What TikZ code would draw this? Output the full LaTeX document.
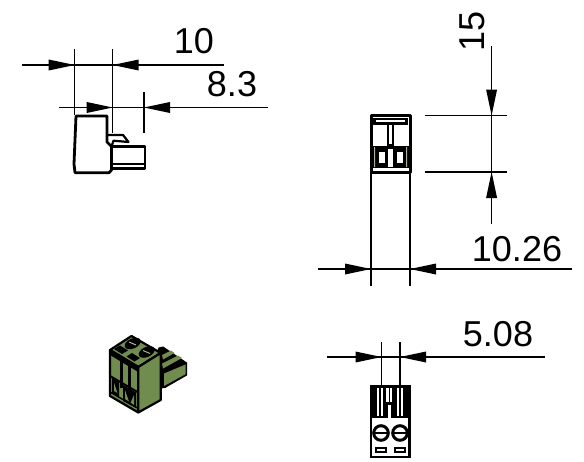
\documentclass[tikz,border=0pt]{standalone}
\usepackage{fontspec}
\setmainfont{Liberation Sans}
\definecolor{grn}{RGB}{112,140,78}
\definecolor{lite}{RGB}{170,180,150}
\tikzset{
  dimline/.style={line width=1.25pt,black},
  tip/.style={fill=black,draw=none},
  part/.style={line width=2.8pt,black,line join=round},
  partb/.style={line width=3pt,black,line join=round},
  cube/.style={fill=grn,draw=black,line width=2.2pt,line join=round},
  dimtext/.style={font=\fontsize{36}{36}\selectfont,inner sep=0pt,text=black}
}
\newcommand{\tipR}[2]{\fill[tip] (#1,#2) -- (#1-26,#2-5.5) -- (#1-26,#2+5.5) -- cycle;}
\newcommand{\tipL}[2]{\fill[tip] (#1,#2) -- (#1+26,#2-5.5) -- (#1+26,#2+5.5) -- cycle;}
\newcommand{\tipD}[2]{\fill[tip] (#1,#2) -- (#1-5.5,#2-26) -- (#1+5.5,#2-26) -- cycle;}
\newcommand{\tipU}[2]{\fill[tip] (#1,#2) -- (#1-5.5,#2+26) -- (#1+5.5,#2+26) -- cycle;}
\begin{document}
\begin{tikzpicture}[x=1pt,y=-1pt]
\useasboundingbox (0,0) rectangle (584,461);
% dim 10
\draw[dimline] (21.5,65) -- (224,65);
\draw[dimline] (74.7,49) -- (74.7,115);
\draw[dimline] (112.7,49) -- (112.7,133);
\tipR{74.7}{65} \tipL{112.7}{65}
\node[dimtext] (d10) at (194,41) {10};
% dim 8.3
\draw[dimline] (59,107.5) -- (268,107.5);
\draw[dimline] (144,92) -- (144,133);
\tipR{112.7}{107.5} \tipL{144}{107.5}
\node[dimtext] (d83) at (232,84) {8.3};
% side view
\draw[part] (76,116) -- (107,116) -- (107,142) -- (111.5,146.5) -- (111.5,170) -- (109,172.7) -- (75,172.7) -- (74,164) -- cycle;
\draw[part] (111.5,146.5) -- (145,146.5) -- (145,168.5) -- (111.5,168.5);
\draw[line width=2pt] (111.5,163.5) -- (145,163.5);
\draw[line width=2.2pt,line join=round] (107,135) -- (123,135) -- (128.5,142) -- (113.5,140.7) -- (111.5,146.5);
% right view
\draw[partb] (371,115.5) rectangle (410,172);
\draw[line width=1.25pt] (371,172) -- (371,286) (410,172) -- (410,286);
\draw[line width=2.2pt] (374.5,119) rectangle (406.5,123.5);
\fill[black] (387,123.5) rectangle (394,146);
\fill[white] (389.3,124.7) rectangle (391.8,144);
\fill[black] (371,146) rectangle (410,168);
\fill[white] (379,152) rectangle (384.5,163);
\fill[white] (388,149) rectangle (392.5,167);
\fill[white] (397,152) rectangle (402.5,163);
\fill[lite] (374,147) rectangle (375,167) (406,147) rectangle (407,167);
% dim 15
\draw[dimline] (424.5,115.5) -- (507,115.5) (424.5,172) -- (507,172);
\draw[dimline] (491.6,46) -- (491.6,224);
\tipD{491.6}{115.5} \tipU{491.6}{172}
\node[dimtext,rotate=90] (d15) at (472,31) {15};
% dim 10.26
\draw[dimline] (318,269) -- (572,269);
\tipR{371}{269} \tipL{410}{269}
\node[dimtext] (d1026) at (517,249) {10.26};
% dim 5.08
\draw[dimline] (327,357) -- (545,357);
\draw[dimline] (381.5,342) -- (381.5,386) (400,342) -- (400,386);
\tipR{381.5}{357} \tipL{400}{357}
\node[dimtext] (d508) at (498,334) {5.08};
% bottom view
\draw[line width=2.2pt] (371,386) rectangle (409.5,457);
\fill[black] (370,386) rectangle (410.5,418);
\fill[white] (377,388) rectangle (379.3,416);
\fill[white] (380.7,388) rectangle (383.3,416);
\fill[white] (386,388) rectangle (392,402);
\fill[black] (388.5,388) rectangle (389.5,402);
\fill[white] (388.3,405) rectangle (390.6,418);
\fill[white] (396.7,388) rectangle (399,416);
\fill[white] (400.5,388) rectangle (403,416);
\foreach \cx in {381,400} {
  \draw[partb] (\cx,433) circle (7.3);
  \draw[line width=2.2pt] (\cx-7,433) -- (\cx+7,433);
  \draw[line width=2pt] (\cx-5,447.7) rectangle (\cx+5,452.3);
}
% 3D view
\fill[black,line join=round,draw=black,line width=1pt] (158,350) -- (159,348) -- (163,347) -- (186.7,363) -- (186.7,375) -- (165,387.5) -- (160,388) -- cycle;
\fill[grn] (162,355) -- (171,350.5) -- (174.5,353) -- (163,359.5) -- cycle;
\fill[grn] (162,363.5) -- (178,355.5) -- (182,358) -- (163,368.5) -- cycle;
\fill[grn] (164,373.5) -- (185.5,364.5) -- (185.5,374.2) -- (164,386) -- cycle;
\draw[cube] (110,350) -- (131.5,336) -- (160.7,353) -- (138.3,367) -- cycle;
\draw[cube] (110,350) -- (138.3,367) -- (138.3,412.5) -- (110,396) -- cycle;
\draw[cube] (138.3,367) -- (160.7,353) -- (160.7,400) -- (138.3,412.5) -- cycle;
% top detail
\fill[black] (110,350) -- (138.3,367) -- (138.3,372) -- (110,355) -- cycle;
\fill[black] (114,349) -- (120,345.5) -- (128,350.5) -- (122,354) -- cycle;
\fill[black] (126.5,356.5) -- (132,353) -- (140,358) -- (134.5,361.5) -- cycle;
\fill[black,rotate around={25:(132.7,343.5)}] (132.7,343.5) ellipse (8.5 and 5);
\fill[black,rotate around={25:(146.7,352)}] (146.7,352) ellipse (8.5 and 5);
\draw[lite,line width=1pt] (129,342) -- (136,345) (143,350.5) -- (150,353.5);
% front detail
\draw[line width=3pt] (121.5,357) -- (121.5,388) (129,362) -- (129,392);
\draw[line width=2pt] (110,376) -- (138.3,392.5);
\fill[black] (112,378) -- (119,382) -- (119,397) -- (112,393) -- cycle;
\fill[black] (123,385) -- (136,392.5) -- (136,408) -- (123,401) -- cycle;
\fill[grn] (114,382.5) -- (114,391) -- (117.5,393) -- cycle;
\fill[grn] (125,390) -- (125,399) -- (129,401.5) -- cycle;
\fill[grn] (134,395) -- (134,405) -- (130.5,402.8) -- cycle;
\draw[line width=1.4pt] (110,392) -- (138.3,408.5);
\end{tikzpicture}
\end{document}
